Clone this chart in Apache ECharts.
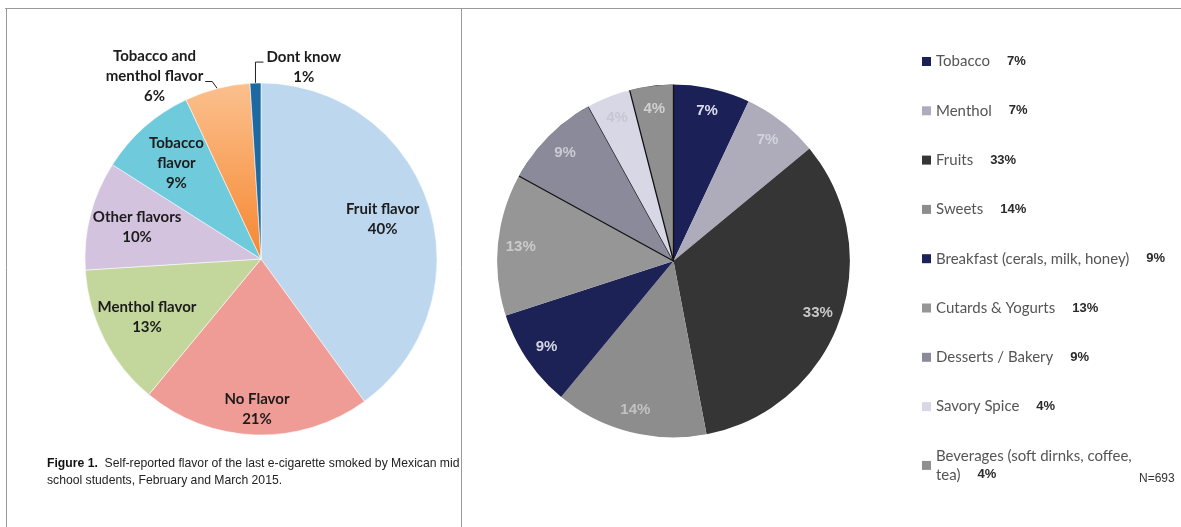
<!DOCTYPE html>
<html>
<head>
<meta charset="utf-8">
<script src="https://cdn.jsdelivr.net/npm/echarts@6/dist/echarts.min.js"></script>
<style>
  html, body { margin: 0; padding: 0; background: #fff; }
  #chart { width: 1181px; height: 527px; }
</style>
</head>
<body>
<div id="chart"></div>
<script>
// left figure: self-reported flavor (percent)
const leftNames = ['Fruit flavor', 'No Flavor', 'Menthol flavor', 'Other flavors', 'Tobacco flavor', 'Tobacco and menthol flavor', 'Dont know'];
const leftValues = [40, 21, 13, 10, 9, 6, 1];
const leftOutside = ['Tobacco and menthol flavor', 'Dont know'];

// right figure: flavor groups (percent), N=693
const rightNames = ['Tobacco', 'Menthol', 'Fruits', 'Sweets', 'Breakfast (cerals, milk, honey)', 'Cutards & Yogurts', 'Desserts / Bakery', 'Savory Spice', 'Beverages (soft dirnks, coffee, tea)'];
const rightValues = [7, 7, 33, 14, 9, 13, 9, 4, 4];

const captionBold = 'Figure 1.';
const captionText = 'Self-reported flavor of the last e-cigarette smoked by Mexican mid';
const captionLine2 = 'school students, February and March 2015.';
const sampleNote = 'N=693';

// colours
const leftColors = ['#bdd7ee', '#ef9c96', '#c3d69b', '#d3c3df', '#6fcbdc',
  new echarts.graphic.LinearGradient(0, 0, 0, 1, [{ offset: 0, color: '#fbc08e' }, { offset: 1, color: '#f68730' }]),
  '#1d6aa3'];
const rightColors = ['#1b2157', '#aeacbb', '#353535', '#8d8d8d', '#1c2156', '#969696', '#8b8a9b', '#d8d7e6', '#8f8f8f'];
const rightLabelColors = ['#dcdcec', '#d2d2dc', '#c8c8c8', '#c2c2c2', '#d6d6e2', '#cbcbcb', '#cacad4', '#c6c6d4', '#d0d0d0'];
const rightBordered = ['Desserts / Bakery', 'Beverages (soft dirnks, coffee, tea)'];

const LC = [261, 259], LR = 176;
const RC = [673.5, 261], RR = 177;

const chart = echarts.init(document.getElementById('chart'));

function leftLabel(name, v) {
  let n = name.replace('Tobacco flavor', 'Tobacco\nflavor').replace('Tobacco and ', 'Tobacco and\n');
  return n + '\n' + v + '%';
}

const leftFont = { fontFamily: 'Lato', fontWeight: 'bold', fontSize: 15, color: '#1c1c1c', lineHeight: 20 };

const legName = { fontFamily: 'Lato', fontSize: 15, color: '#555', verticalAlign: 'middle' };
const legPct = { fontFamily: 'Liberation Sans', fontWeight: 'bold', fontSize: 13, color: '#2a2a2a', verticalAlign: 'middle', padding: [0, 0, 0, 17] };

const option = {
  animation: false,
  backgroundColor: '#fff',
  legend: {
    orient: 'vertical',
    left: 922,
    top: 54,
    padding: 0,
    itemWidth: 9,
    itemHeight: 9,
    itemGap: 34.3,
    icon: 'rect',
    selectedMode: false,
    itemStyle: { borderWidth: 0 },
    data: rightNames,
    formatter: function (name) {
      const v = rightValues[rightNames.indexOf(name)];
      if (name.indexOf('Beverages') === 0) {
        return '{m|Beverages (soft dirnks, coffee,}\n{m|tea)}{q|' + v + '%}';
      }
      return '{n|' + name + '}{p|' + v + '%}';
    },
    textStyle: {
      rich: {
        n: Object.assign({ lineHeight: 18 }, legName),
        p: Object.assign({ lineHeight: 18 }, legPct),
        m: Object.assign({ lineHeight: 19 }, legName),
        q: Object.assign({ lineHeight: 19 }, legPct)
      }
    }
  },
  series: [
    {
      // left pie, slices + outside labels
      type: 'pie',
      center: LC,
      radius: [0, LR],
      startAngle: 90,
      clockwise: true,
      silent: true,
      z: 2,
      data: leftNames.map((n, i) => ({
        name: n,
        value: leftValues[i],
        itemStyle: { color: leftColors[i] },
        label: { show: leftOutside.indexOf(n) >= 0 },
        labelLine: { show: leftOutside.indexOf(n) >= 0 }
      })),
      itemStyle: { borderColor: 'rgba(255,255,255,0.55)', borderWidth: 1 },
      label: Object.assign({
        position: 'outside',
        align: 'center',
        formatter: p => leftLabel(p.name, p.value)
      }, leftFont),
      labelLine: { length: 8, length2: 8, lineStyle: { color: '#222', width: 1 } },
      labelLayout: function (p) {
        const pts = p.labelLinePoints;
        if (!pts) return;
        const a = pts[0];
        const w = p.labelRect.width;
        if (leftNames[p.dataIndex] === 'Dont know') {
          const y = a[1] - 21;
          return {
            x: a[0] + 11 + w / 2, y: y + 5, align: 'center', verticalAlign: 'middle',
            labelLinePoints: [a, [a[0], y], [a[0] + 8, y]]
          };
        }
        const e = [a[0] - 12, a[1] - 7];
        return {
          x: e[0] - 2 - w / 2, y: e[1] - 5, align: 'center', verticalAlign: 'middle',
          labelLinePoints: [a, [a[0] - 5, e[1]], e]
        };
      }
    },
    {
      // left pie, inside labels
      type: 'pie',
      center: LC,
      radius: [LR * 0.42, LR],
      startAngle: 90,
      clockwise: true,
      silent: true,
      z: 3,
      data: leftNames.map((n, i) => ({
        name: n,
        value: leftValues[i],
        label: { show: leftOutside.indexOf(n) < 0 }
      })),
      itemStyle: { color: 'rgba(0,0,0,0)', borderWidth: 0 },
      label: Object.assign({
        position: 'inside',
        align: 'center',
        formatter: p => leftLabel(p.name, p.value)
      }, leftFont),
      labelLine: { show: false },
      labelLayout: function (p) {
        if (leftNames[p.dataIndex] !== 'No Flavor') return;
        return { dy: 22 };
      }
    },
    {
      // right pie
      type: 'pie',
      center: RC,
      radius: [0, RR],
      startAngle: 90,
      clockwise: true,
      silent: true,
      z: 2,
      data: rightNames.map((n, i) => ({
        name: n,
        value: rightValues[i],
        itemStyle: {
          color: rightColors[i],
          borderColor: '#111',
          borderWidth: rightBordered.indexOf(n) >= 0 ? 1.3 : 0
        }
      })),
      label: { show: false },
      labelLine: { show: false }
    },
    {
      // white rim hides the slice border on the arc
      type: 'pie',
      center: RC,
      radius: [RR - 0.6, RR + 3],
      silent: true,
      z: 3,
      data: [{ value: 1, itemStyle: { color: '#fff' } }],
      itemStyle: { borderWidth: 0 },
      label: { show: false },
      labelLine: { show: false }
    },
    {
      // right pie labels
      type: 'pie',
      center: RC,
      radius: [RR * 0.7, RR],
      startAngle: 90,
      clockwise: true,
      silent: true,
      z: 4,
      data: rightValues.map((v, i) => ({
        value: v,
        label: { color: rightLabelColors[i] }
      })),
      itemStyle: { color: 'rgba(0,0,0,0)', borderWidth: 0 },
      label: {
        position: 'inside',
        formatter: '{c}%',
        fontFamily: 'Liberation Sans',
        fontWeight: 'bold',
        fontSize: 15
      },
      labelLine: { show: false }
    }
  ],
  graphic: [
    { type: 'line', shape: { x1: 5, y1: 8.5, x2: 1181, y2: 8.5 }, style: { stroke: '#9a9a9a', lineWidth: 1 }, silent: true },
    { type: 'line', shape: { x1: 6.5, y1: 8, x2: 6.5, y2: 527 }, style: { stroke: '#9a9a9a', lineWidth: 1 }, silent: true },
    { type: 'line', shape: { x1: 461.5, y1: 8, x2: 461.5, y2: 527 }, style: { stroke: '#9a9a9a', lineWidth: 1 }, silent: true },
    {
      type: 'text', left: 47, top: 455, silent: true,
      style: {
        text: '{b|' + captionBold + '}  ' + captionText + '\n' + captionLine2,
        fontFamily: 'Liberation Sans',
        fontSize: 12.2,
        lineHeight: 17,
        fill: '#222',
        rich: { b: { fontWeight: 'bold', fontSize: 12.2, fontFamily: 'Liberation Sans', fill: '#111' } }
      }
    },
    {
      type: 'text', left: 1139, top: 473, silent: true,
      style: { text: sampleNote, fontFamily: 'Liberation Sans', fontSize: 12, fill: '#333' }
    }
  ]
};

chart.setOption(option);
window.addEventListener('resize', () => chart.resize());
</script>
</body>
</html>
